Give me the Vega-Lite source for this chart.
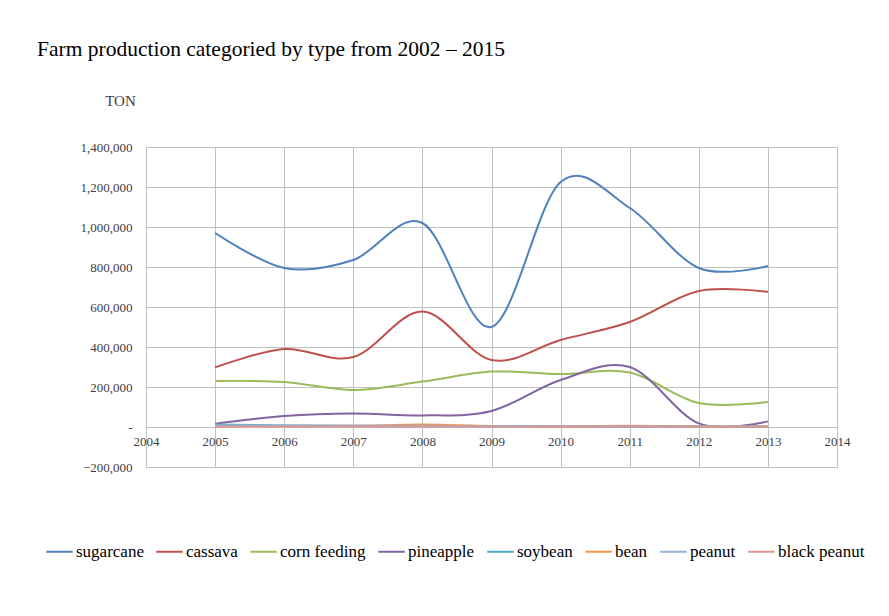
{
  "$schema": "https://vega.github.io/schema/vega-lite/v6.json",
  "width": 691,
  "height": 320,
  "autosize": "none",
  "padding": {"left": 146, "top": 147, "right": 52, "bottom": 149},
  "background": "white",
  "title": {
    "text": "Farm production categoried by type from 2002 – 2015",
    "anchor": "start",
    "frame": "group",
    "dx": -109,
    "offset": 33,
    "font": "Liberation Serif",
    "fontSize": 21.5,
    "fontWeight": "normal",
    "color": "#000000"
  },
  "config": {
    "view": {"stroke": null},
    "font": "Liberation Serif"
  },
  "data": {
    "values": [
      {"year": 2005, "type": "sugarcane", "ton": 970000},
      {"year": 2006, "type": "sugarcane", "ton": 795000},
      {"year": 2007, "type": "sugarcane", "ton": 835000},
      {"year": 2008, "type": "sugarcane", "ton": 1020000},
      {"year": 2009, "type": "sugarcane", "ton": 500000},
      {"year": 2010, "type": "sugarcane", "ton": 1225000},
      {"year": 2011, "type": "sugarcane", "ton": 1095000},
      {"year": 2012, "type": "sugarcane", "ton": 795000},
      {"year": 2013, "type": "sugarcane", "ton": 805000},
      {"year": 2005, "type": "cassava", "ton": 298000},
      {"year": 2006, "type": "cassava", "ton": 390000},
      {"year": 2007, "type": "cassava", "ton": 350000},
      {"year": 2008, "type": "cassava", "ton": 577000},
      {"year": 2009, "type": "cassava", "ton": 335000},
      {"year": 2010, "type": "cassava", "ton": 435000},
      {"year": 2011, "type": "cassava", "ton": 525000},
      {"year": 2012, "type": "cassava", "ton": 680000},
      {"year": 2013, "type": "cassava", "ton": 675000},
      {"year": 2005, "type": "corn feeding", "ton": 230000},
      {"year": 2006, "type": "corn feeding", "ton": 225000},
      {"year": 2007, "type": "corn feeding", "ton": 185000},
      {"year": 2008, "type": "corn feeding", "ton": 227000},
      {"year": 2009, "type": "corn feeding", "ton": 277000},
      {"year": 2010, "type": "corn feeding", "ton": 265000},
      {"year": 2011, "type": "corn feeding", "ton": 272000},
      {"year": 2012, "type": "corn feeding", "ton": 120000},
      {"year": 2013, "type": "corn feeding", "ton": 125000},
      {"year": 2005, "type": "pineapple", "ton": 16000},
      {"year": 2006, "type": "pineapple", "ton": 55000},
      {"year": 2007, "type": "pineapple", "ton": 68000},
      {"year": 2008, "type": "pineapple", "ton": 58000},
      {"year": 2009, "type": "pineapple", "ton": 80000},
      {"year": 2010, "type": "pineapple", "ton": 235000},
      {"year": 2011, "type": "pineapple", "ton": 300000},
      {"year": 2012, "type": "pineapple", "ton": 18000},
      {"year": 2013, "type": "pineapple", "ton": 28000},
      {"year": 2005, "type": "soybean", "ton": 12000},
      {"year": 2006, "type": "soybean", "ton": 8000},
      {"year": 2007, "type": "soybean", "ton": 6000},
      {"year": 2008, "type": "soybean", "ton": 5000},
      {"year": 2009, "type": "soybean", "ton": 4000},
      {"year": 2010, "type": "soybean", "ton": 3000},
      {"year": 2011, "type": "soybean", "ton": 3000},
      {"year": 2012, "type": "soybean", "ton": 2000},
      {"year": 2013, "type": "soybean", "ton": 2000},
      {"year": 2005, "type": "bean", "ton": 4000},
      {"year": 2006, "type": "bean", "ton": 5000},
      {"year": 2007, "type": "bean", "ton": 6000},
      {"year": 2008, "type": "bean", "ton": 12000},
      {"year": 2009, "type": "bean", "ton": 5000},
      {"year": 2010, "type": "bean", "ton": 4000},
      {"year": 2011, "type": "bean", "ton": 6000},
      {"year": 2012, "type": "bean", "ton": 3000},
      {"year": 2013, "type": "bean", "ton": 3000},
      {"year": 2005, "type": "peanut", "ton": 8000},
      {"year": 2006, "type": "peanut", "ton": 7000},
      {"year": 2007, "type": "peanut", "ton": 6000},
      {"year": 2008, "type": "peanut", "ton": 6000},
      {"year": 2009, "type": "peanut", "ton": 5000},
      {"year": 2010, "type": "peanut", "ton": 4000},
      {"year": 2011, "type": "peanut", "ton": 4000},
      {"year": 2012, "type": "peanut", "ton": 3000},
      {"year": 2013, "type": "peanut", "ton": 3000},
      {"year": 2005, "type": "black peanut", "ton": 2000},
      {"year": 2006, "type": "black peanut", "ton": 2000},
      {"year": 2007, "type": "black peanut", "ton": 2000},
      {"year": 2008, "type": "black peanut", "ton": 3000},
      {"year": 2009, "type": "black peanut", "ton": 2000},
      {"year": 2010, "type": "black peanut", "ton": 1000},
      {"year": 2011, "type": "black peanut", "ton": 2000},
      {"year": 2012, "type": "black peanut", "ton": 1000},
      {"year": 2013, "type": "black peanut", "ton": 1000}
    ]
  },
  "mark": {"type": "line", "interpolate": "cardinal", "strokeWidth": 2},
  "encoding": {
    "x": {
      "field": "year",
      "type": "quantitative",
      "scale": {"domain": [2004, 2014], "nice": false, "zero": false},
      "axis": {
        "title": null,
        "values": [2004, 2005, 2006, 2007, 2008, 2009, 2010, 2011, 2012, 2013, 2014],
        "format": "d",
        "offset": -40,
        "domain": false,
        "ticks": false,
        "grid": true,
        "gridColor": "#c0c0c0",
        "gridWidth": 1,
        "labelFont": "Liberation Serif",
        "labelFontSize": 13,
        "labelColor": "#404040",
        "labelPadding": 8,
        "labelFlush": false
      }
    },
    "y": {
      "field": "ton",
      "type": "quantitative",
      "scale": {"domain": [-200000, 1400000], "nice": false},
      "axis": {
        "title": "TON",
        "titleAngle": 0,
        "titleX": -26,
        "titleY": -47,
        "titleAlign": "center",
        "titleBaseline": "middle",
        "titleFont": "Liberation Serif",
        "titleFontSize": 15,
        "titleFontWeight": "normal",
        "titleColor": "#404040",
        "values": [-200000, 0, 200000, 400000, 600000, 800000, 1000000, 1200000, 1400000],
        "labelExpr": "datum.value == 0 ? '-' : format(datum.value, ',')",
        "domain": false,
        "ticks": false,
        "grid": true,
        "gridColor": "#c0c0c0",
        "gridWidth": 1,
        "labelFont": "Liberation Serif",
        "labelFontSize": 13,
        "labelColor": "#404040",
        "labelPadding": 14
      }
    },
    "color": {
      "field": "type",
      "type": "nominal",
      "scale": {
        "domain": ["sugarcane", "cassava", "corn feeding", "pineapple", "soybean", "bean", "peanut", "black peanut"],
        "range": ["#4F81BD", "#C0504D", "#9BBB59", "#8064A2", "#4BACC6", "#F79646", "#95B3D7", "#D99694"]
      },
      "legend": {
        "title": null,
        "orient": "none",
        "direction": "horizontal",
        "legendX": -101,
        "legendY": 390,
        "symbolType": "stroke",
        "symbolStrokeWidth": 2,
        "symbolSize": 700,
        "labelFont": "Liberation Serif",
        "labelFontSize": 17,
        "labelColor": "#000000",
        "labelOffset": 2,
        "columnPadding": 8
      }
    }
  }
}
